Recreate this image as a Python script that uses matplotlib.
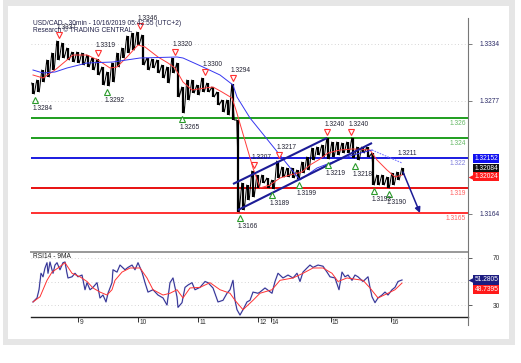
import matplotlib
matplotlib.use("Agg")
import matplotlib.pyplot as plt
import matplotlib.transforms as mtransforms
from matplotlib.patches import Rectangle
from matplotlib.lines import Line2D
import numpy as np

plt.rcParams['font.family'] = ['Liberation Sans', 'DejaVu Sans']

W, H = 521, 363

# ---------------- data ----------------
title = "USD/CAD - 30min - 10/16/2019 05:42:55 (UTC+2)"
subtitle = "Research \u00a9 TRADING CENTRAL"

# 2-hour price ranges (hours since Oct 8 06:00)
bar_high = [1.3295, 1.3298, 1.3308, 1.3318, 1.3325, 1.3337, 1.3335, 1.3330, 1.3326, 1.3326,
            1.3325, 1.3323, 1.3320, 1.3319, 1.3311, 1.3306, 1.3315, 1.3325, 1.3330, 1.3342,
            1.3345, 1.3346, 1.3343, 1.3320, 1.3319, 1.3318, 1.3313, 1.3311, 1.3320, 1.3315,
            1.3291, 1.3298, 1.3298, 1.3293, 1.3300, 1.3295, 1.3291, 1.3286, 1.3278, 1.3278,
            1.3294, 1.3258, 1.3195, 1.3193, 1.3207, 1.3203, 1.3203, 1.3200, 1.3198, 1.3217,
            1.3211, 1.3210, 1.3210, 1.3208, 1.3216, 1.3221, 1.3230, 1.3231, 1.3233, 1.3240,
            1.3236, 1.3236, 1.3235, 1.3236, 1.3240, 1.3231, 1.3231, 1.3231, 1.3225, 1.3203,
            1.3203, 1.3201, 1.3205, 1.3206, 1.3210]
bar_low = [1.3284, 1.3286, 1.3296, 1.3301, 1.3308, 1.3318, 1.3320, 1.3318, 1.3316, 1.3315,
           1.3313, 1.3311, 1.3308, 1.3303, 1.3293, 1.3292, 1.3296, 1.3311, 1.3320, 1.3325,
           1.3328, 1.3333, 1.3313, 1.3308, 1.3310, 1.3305, 1.3300, 1.3295, 1.3305, 1.3281,
           1.3265, 1.3278, 1.3285, 1.3283, 1.3286, 1.3286, 1.3281, 1.3273, 1.3266, 1.3263,
           1.3258, 1.3166, 1.3168, 1.3178, 1.3181, 1.3190, 1.3195, 1.3190, 1.3189, 1.3200,
           1.3201, 1.3201, 1.3200, 1.3199, 1.3205, 1.3208, 1.3218, 1.3223, 1.3221, 1.3219,
           1.3221, 1.3223, 1.3225, 1.3225, 1.3220, 1.3218, 1.3225, 1.3221, 1.3193, 1.3193,
           1.3193, 1.3190, 1.3193, 1.3198, 1.3203]
bar_hours = 2

fast_ma_t = [0, 4, 8.8, 13.6, 16, 21.6, 26, 30.8, 33.6, 37.6, 42, 44.8, 50, 54, 56.8, 60, 63.6,
             68.8, 72, 75.6, 79.6, 81.2, 88, 90.8, 94.8, 98.8, 102.8, 107.6, 110.8, 114.8, 118,
             122.8, 128, 134.8, 137.6, 141.6, 144.8, 147.6]
fast_ma_v = [1.3303, 1.3300, 1.3308, 1.3318, 1.3323, 1.3323, 1.3318, 1.3310, 1.3311, 1.3321,
             1.3333, 1.3331, 1.3321, 1.3315, 1.3310, 1.3296, 1.3288, 1.3290, 1.3291, 1.3286,
             1.3280, 1.3268, 1.3210, 1.3190, 1.3193, 1.3200, 1.3203, 1.3206, 1.3213, 1.3219,
             1.3225, 1.3228, 1.3229, 1.3228, 1.3218, 1.3208, 1.3201, 1.3203]

slow_ma_t = [0, 4, 8.8, 13.6, 21.6, 32, 42.8, 57.6, 60, 68, 74.8, 80, 81.6, 86.8, 106.8, 113.6,
             118.8, 128, 135.6]
slow_ma_v = [1.3308, 1.3305, 1.3306, 1.3310, 1.3315, 1.3316, 1.3320, 1.3321, 1.3320, 1.3311,
             1.3303, 1.3293, 1.3281, 1.3260, 1.3198, 1.3210, 1.3215, 1.3223, 1.3228]
slow_proj_t = [135.6, 147.6]
slow_proj_v = [1.3228, 1.3215]
slow_proj_label = "1.3211"

pivot_high_t = [10.4, 26, 42.8, 56.8, 68.8, 80, 88.4, 98.4, 117.6, 127.2]
pivot_high_v = [1.3337, 1.3319, 1.3346, 1.3320, 1.3300, 1.3294, 1.3207, 1.3217, 1.3240, 1.3240]
pivot_low_t = [0.8, 29.6, 59.6, 82.8, 95.6, 106.4, 118, 128.8, 136.4, 142.4]
pivot_low_v = [1.3284, 1.3292, 1.3265, 1.3166, 1.3189, 1.3199, 1.3219, 1.3218, 1.3193, 1.3190]

channel_upper_t = [80, 117.6]
channel_upper_v = [1.3194, 1.3240]
channel_lower_t = [82, 135.6]
channel_lower_v = [1.3168, 1.3235]

forecast_t = [148, 154.8]
forecast_v = [1.3206, 1.3165]

levels = [1.3260, 1.3240, 1.3220, 1.3190, 1.3165]
level_labels = ["1.326", "1.324", "1.322", "1.319", "1.3165"]

price_ticks = [1.3334, 1.3277, 1.3164]
price_grid = [1.3334, 1.3277]

day_ticks_t = [18, 42, 66, 90, 95, 119, 143]
day_labels = ["9", "10", "11", "12", "14", "15", "16"]

tag_slow = 1.32152
tag_last = 1.32084
tag_fast = 1.32024

rsi_t = [0, 1.6, 2.4, 3.2, 4, 4.8, 5.6, 6, 6.8, 7.6,
         8, 8.8, 9.6, 10.8, 12, 12.8, 13.6, 14, 15.6, 16.8,
         18, 19.6, 20.8, 21.6, 22.8, 24, 25.6, 26.8, 28, 29.2,
         30, 31.6, 32, 33.6, 34.8, 36.8, 38, 39.6, 40.8, 42,
         43.6, 44.8, 46, 48, 50, 52, 53.6, 54.8, 56, 56.8,
         57.6, 58, 59.6, 60.8, 62, 63.6, 64.8, 66.8, 68.8, 70,
         72, 74, 76, 77.6, 78.8, 80, 80.8, 81.6, 82.8, 84,
         85.6, 86.8, 88, 90, 90.8, 92.8, 95.6, 96.8, 98, 100,
         102, 104, 105.6, 106.8, 108, 109.6, 110.8, 112, 114, 116,
         117.6, 118.8, 120.8, 122.4, 123.6, 124.8, 126, 127.6, 128.8, 130,
         132, 134, 134.8, 135.6, 136.8, 138, 139.6, 140.8, 142, 143.6,
         144.8, 146, 147.6]
rsi_v = [32.6, 36, 43, 57, 54, 61.5, 66, 57, 66.6, 60,
         57, 64, 66, 60, 66, 66.6, 57, 53, 54, 57,
         54, 55.5, 43, 49, 43, 45, 49, 36, 38.5, 32.6,
         40, 49, 60, 58, 64, 60, 62, 64, 60, 66,
         58, 49, 41, 43, 38.5, 36, 30, 49, 53, 45,
         37, 28, 32, 45, 47, 49, 43, 45, 50, 49,
         44.5, 32.6, 34, 40, 43, 51, 34, 26, 21.5, 26,
         32.6, 34, 41, 40, 41, 44.5, 40, 50, 57, 53,
         55.5, 53, 57, 50, 58, 61.5, 64, 62, 64, 63,
         58, 54, 53, 43, 58, 54, 55.5, 51, 55.5, 54,
         50, 54, 45, 37, 32, 36, 38.5, 41, 38.5, 43,
         45, 50, 51.3]
rsi_ma_t = [0, 2.8, 5.6, 7.6, 10, 12.8, 15.6, 18.8, 21.6, 24,
            26.8, 29.6, 31.6, 32.8, 35.6, 38.8, 42.8, 45.6, 48, 52,
            54.8, 57.6, 60, 62.8, 66.8, 70.8, 74.8, 78.8, 80.8, 84,
            88, 90.8, 95.6, 98.8, 104, 108, 112, 116, 119.6, 122,
            125.6, 132, 134.8, 138, 142, 144.8, 147.6]
rsi_ma_v = [32.6, 37, 51, 58, 61.5, 66, 57, 54, 50, 44.5,
            41, 38.5, 43, 51, 58, 61.5, 61.5, 53, 43, 38.5,
            40, 43, 36, 44.5, 45, 49, 43, 40, 34, 26,
            34, 40, 43, 51, 53, 57, 61.5, 61.5, 57, 50,
            53, 51, 44.5, 36, 40, 43, 48.7]
rsi_ticks = [70, 30]
rsi_grid = [70, 50, 30]
rsi_title = "RSI14 - 9MA"
tag_rsi = 51.2805
tag_rsi_ma = 48.7395

# ---------------- styling helpers ----------------
def fx(px):
    return px / W

def fy(py):
    return 1 - py / H

NAVY = '#1c1c96'
GREEN = '#1e9e1e'
BLUE = '#1a1ae0'
FS = 4.8

fig = plt.figure(figsize=(W / 100, H / 100), dpi=100)
fig.patch.set_facecolor('white')
fig.patches.append(Rectangle((fx(3), fy(345)), fx(515) - fx(3), fy(0) - fy(345),
                             transform=fig.transFigure, facecolor='#e6e6e6', edgecolor='none', zorder=-10))
fig.patches.append(Rectangle((fx(8), fy(339)), fx(509) - fx(8), fy(6) - fy(339),
                             transform=fig.transFigure, facecolor='white', edgecolor='none', zorder=-9))

ax = fig.add_axes([fx(31), fy(240), fx(468) - fx(31), fy(18) - fy(240)])
ax.set_facecolor('none')
ax.set_xlim(-0.8, 174)
ax.set_ylim(1.3138, 1.3360)
for s in ax.spines.values():
    s.set_visible(False)
ax.set_xticks([])
ax.yaxis.tick_right()
ax.set_yticks(price_ticks)
ax.set_yticklabels([f"{v:.4f}" for v in price_ticks])
ax.tick_params(axis='y', length=3, width=0.6, color='#666666', labelsize=FS,
               labelcolor='#2a2a66', pad=20)
for lab in ax.get_yticklabels():
    lab.set_horizontalalignment('right')

for g in price_grid:
    ax.axhline(g, color='#c8c8c8', lw=0.6, ls=(0, (1, 3)), zorder=0)

level_colors = [GREEN, GREEN, BLUE, '#e81010', '#ff3030']
label_colors = ['#66b866', '#66b866', '#8080dd', '#ff6060', '#ff6060']
for lv, lab, c, lc in zip(levels, level_labels, level_colors, label_colors):
    ax.axhline(lv, color=c, lw=1.4, zorder=1)
    ax.annotate(lab, xy=(1, lv), xycoords=('axes fraction', 'data'), xytext=(-1.5, -1.2),
                textcoords='offset points', ha='right', va='top', fontsize=FS, color=lc)

# price bars: high-low range bars plus a jagged path through them
t_bars = np.arange(len(bar_high)) * bar_hours
hi = np.array(bar_high)
lo = np.array(bar_low)
ax.vlines(t_bars, lo, hi, color='black', lw=1.6, zorder=3)
path_t = np.ravel(np.column_stack([t_bars - 0.5, t_bars + 0.5]))
path_v = np.ravel(np.column_stack([hi, lo]))
ax.plot(path_t, path_v, color='black', lw=0.7, zorder=3)

# moving averages
ax.plot(fast_ma_t, fast_ma_v, color='#ff3b3b', lw=0.7, zorder=4)
ax.plot(slow_ma_t, slow_ma_v, color='#3636f0', lw=0.7, zorder=4)
ax.plot(slow_proj_t, slow_proj_v, color='#7a7aff', lw=0.8, ls=(0, (1.5, 1)), zorder=4)
ax.annotate(slow_proj_label, xy=(slow_proj_t[-1], slow_proj_v[-1]), xytext=(-3.5, 6.5),
            textcoords='offset points', ha='left', va='center', fontsize=FS, color='#222244')

# channel
ax.plot(channel_upper_t, channel_upper_v, color=NAVY, lw=1.5, zorder=5, solid_capstyle='butt')
ax.plot(channel_lower_t, channel_lower_v, color=NAVY, lw=1.5, zorder=5, solid_capstyle='butt')

# forecast arrow
ax.annotate('', xy=(forecast_t[1], forecast_v[1]), xytext=(forecast_t[0], forecast_v[0]),
            arrowprops=dict(arrowstyle='-|>', color=NAVY, lw=1.1, mutation_scale=8,
                            shrinkA=0, shrinkB=0), zorder=6)

# pivots
up = mtransforms.offset_copy(ax.transData, fig=fig, x=0, y=4.3, units='points')
dn = mtransforms.offset_copy(ax.transData, fig=fig, x=0, y=-4.3, units='points')
ax.plot(pivot_high_t, pivot_high_v, ls='none', marker='v', ms=4.5, mfc='white', mec='#ff3030',
        mew=0.8, transform=up, zorder=7)
ax.plot(pivot_low_t, pivot_low_v, ls='none', marker='^', ms=4.5, mfc='white', mec='#2a9a2a',
        mew=0.8, transform=dn, zorder=7)
for t, v in zip(pivot_high_t, pivot_high_v):
    ax.annotate(f"{v:.4f}", xy=(t, v), xytext=(-1.5, 10), textcoords='offset points',
                ha='left', va='center', fontsize=FS, color='#222233', zorder=8)
for t, v in zip(pivot_low_t, pivot_low_v):
    ax.annotate(f"{v:.4f}", xy=(t, v), xytext=(-1.5, -10.5), textcoords='offset points',
                ha='left', va='center', fontsize=FS, color='#222233', zorder=8)

# header
fig.text(fx(33), fy(23.5), title, fontsize=FS, color='#23234a', va='center', ha='left')
fig.text(fx(33), fy(31), subtitle, fontsize=FS, color='#23234a', va='center', ha='left')

# price tags
def tag(axis, value, text, color, dy, pointer=False):
    axis.annotate(text, xy=(1, value), xycoords=('axes fraction', 'data'), xytext=(4.6, dy),
                  textcoords='offset points', ha='left', va='center', fontsize=FS, color='white',
                  annotation_clip=False,
                  bbox=dict(boxstyle='square,pad=0.18', fc=color, ec='none'))
    if pointer:
        tr = mtransforms.offset_copy(axis.get_yaxis_transform(), fig=fig, x=2.2, y=dy, units='points')
        axis.plot([1], [value], marker='<', ms=4, color=color, mec='none', transform=tr,
                  clip_on=False, zorder=9)

tag(ax, tag_slow, f"{tag_slow:.5f}", '#1010f0', 3.0)
tag(ax, tag_last, f"{tag_last:.5f}", '#111111', 1.0)
tag(ax, tag_fast, f"{tag_fast:.5f}", '#ff1a1a', -0.8, pointer=True)

# ---------------- RSI panel ----------------
rax = fig.add_axes([fx(31), fy(317), fx(468) - fx(31), fy(252) - fy(317)])
rax.set_facecolor('none')
rax.set_xlim(-0.8, 174)
rax.set_ylim(19.8, 75.1)
for k in ['left', 'right']:
    rax.spines[k].set_visible(False)
rax.spines['top'].set_color('#999999')
rax.spines['top'].set_linewidth(1.4)
rax.spines['bottom'].set_color('#222222')
rax.spines['bottom'].set_linewidth(1.0)
rax.yaxis.tick_right()
rax.set_yticks(rsi_ticks)
rax.set_yticklabels([str(v) for v in rsi_ticks])
rax.tick_params(axis='y', length=3, width=0.6, color='#444444', labelsize=FS,
                labelcolor='#333333', pad=20)
for lab in rax.get_yticklabels():
    lab.set_horizontalalignment('right')
rax.set_xticks(day_ticks_t)
rax.set_xticklabels([])
rax.tick_params(axis='x', length=3.5, width=0.7, color='#333333', direction='out')
xoff = mtransforms.offset_copy(rax.get_xaxis_transform(), fig=fig, x=1.0, y=-3.6, units='points')
for t, lab in zip(day_ticks_t, day_labels):
    rax.text(t, 0, lab, transform=xoff, fontsize=FS, color='#333333', ha='left', va='center')

for g in rsi_grid:
    rax.axhline(g, color='#c8c8c8', lw=0.6, ls=(0, (1, 3)), zorder=0)

rax.plot(rsi_t, rsi_v, color='#7070c0', lw=1.2, alpha=0.45, zorder=2)
rax.plot(rsi_t, rsi_v, color='#20208a', lw=0.6, zorder=3)
rax.plot(rsi_ma_t, rsi_ma_v, color='#ff3333', lw=0.7, zorder=4)
rax.text(0.005, 0.93, rsi_title, transform=rax.transAxes, fontsize=FS, color='#222222',
         ha='left', va='center')

tag(rax, tag_rsi, f"{tag_rsi:.4f}", '#1c1c80', 0, pointer=True)
tag(rax, tag_rsi_ma, f"{tag_rsi_ma:.4f}", '#ff1a1a', -4.5)

# right axis line spanning both panels
fig.add_artist(Line2D([fx(468), fx(468)], [fy(18), fy(325)], transform=fig.transFigure,
                      color='#777777', lw=0.8))

fig.savefig('out.png', dpi=100, facecolor='white')
